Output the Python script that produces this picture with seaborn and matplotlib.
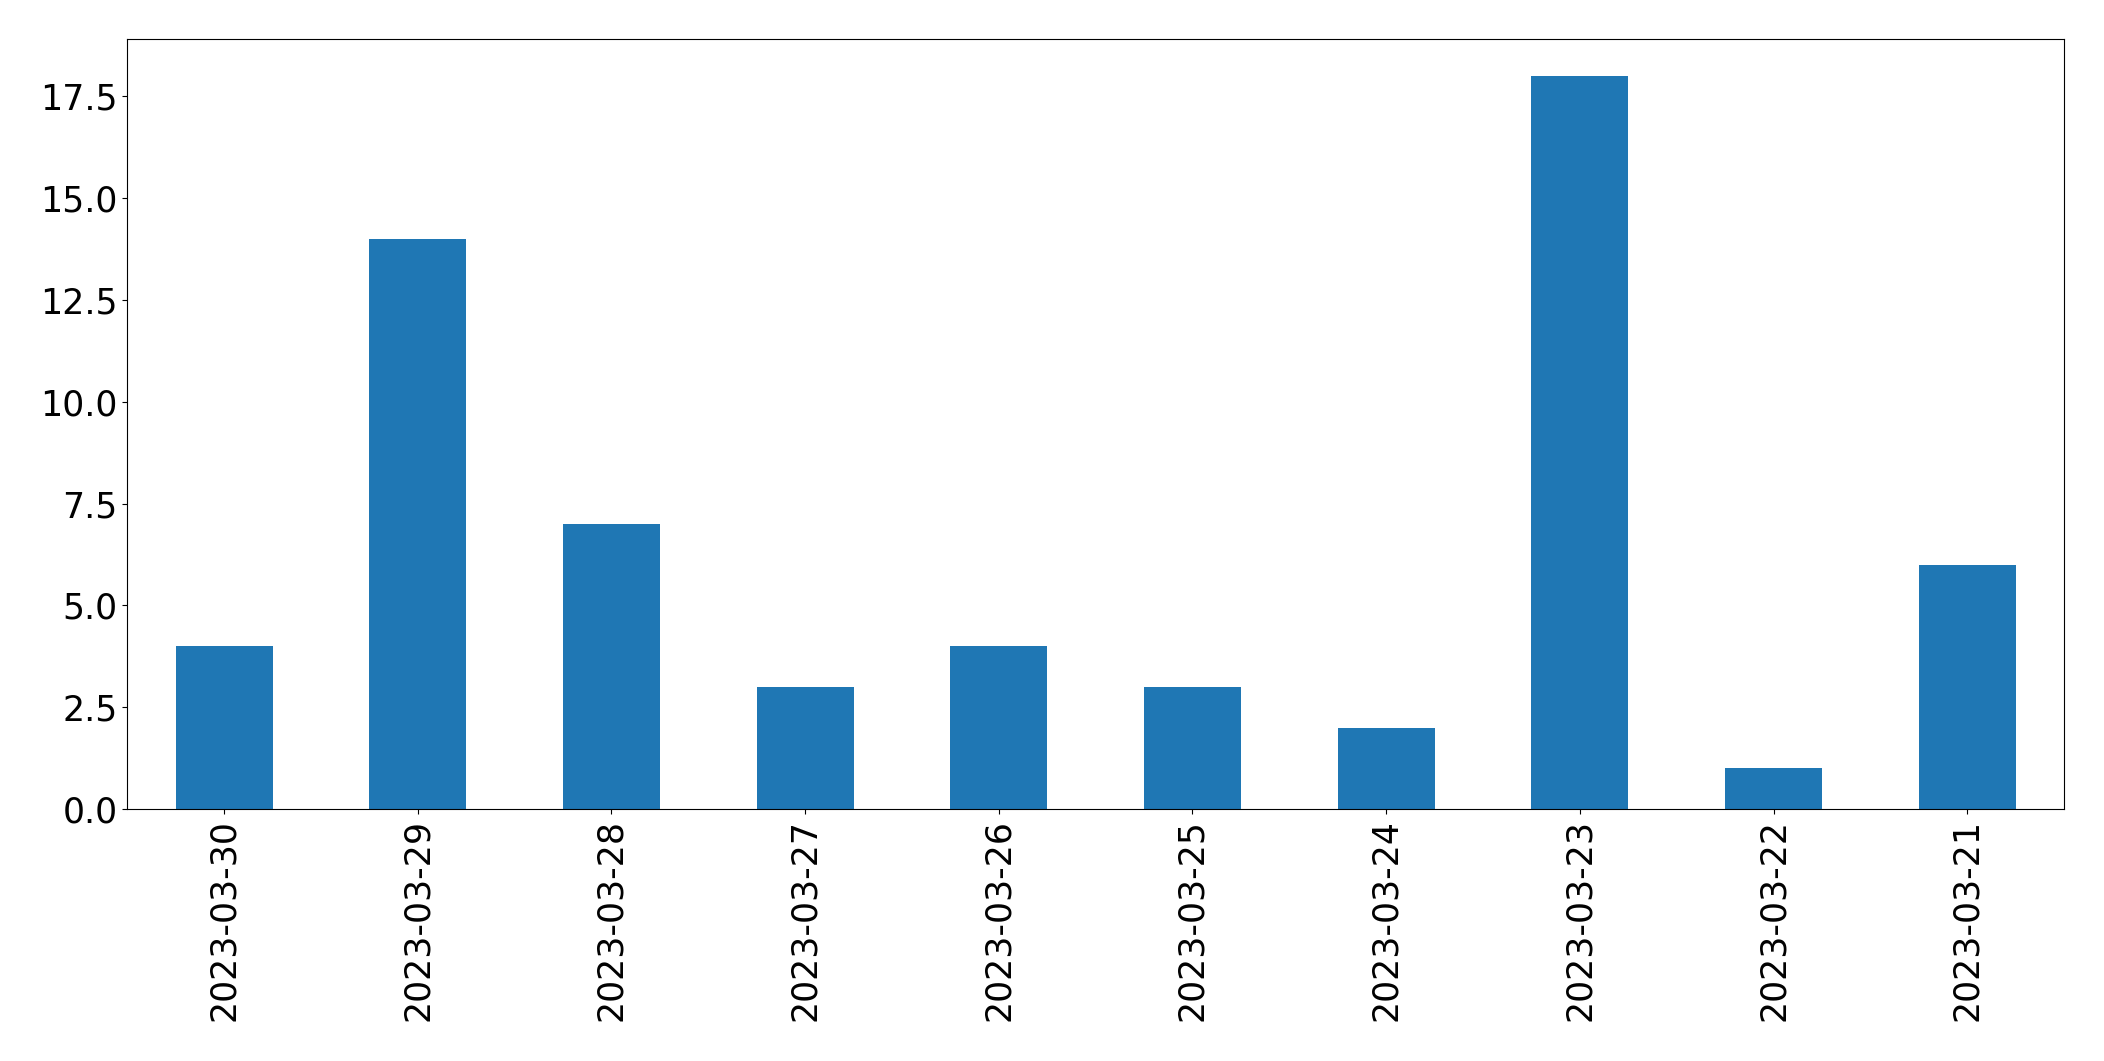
import matplotlib
matplotlib.use("Agg")
import matplotlib.pyplot as plt
import seaborn as sns
import pandas as pd

dates = ["2023-03-30", "2023-03-29", "2023-03-28", "2023-03-27", "2023-03-26",
         "2023-03-25", "2023-03-24", "2023-03-23", "2023-03-22", "2023-03-21"]
counts = [4, 14, 7, 3, 4, 3, 2, 18, 1, 6]

df = pd.DataFrame({"date": dates, "count": counts})

plt.rcParams['font.family'] = ['DejaVu Sans']
fig = plt.figure(figsize=(21.04, 10.61), dpi=100)
ax = fig.add_axes([0.0605, 0.2375, 0.9205, 0.7255])
sns.barplot(data=df, x="date", y="count", order=dates, color="#1f77b4",
            saturation=1, width=0.5, ax=ax, errorbar=None, linewidth=0)
ax.set_xlim(-0.5, 9.5)
ax.set_ylim(0, 18.9)
ax.set_xlabel("")
ax.set_ylabel("")
ax.tick_params(axis="both", labelsize=25)
for lbl in ax.get_xticklabels():
    lbl.set_rotation(90)
fig.savefig("out.png", dpi=100)
